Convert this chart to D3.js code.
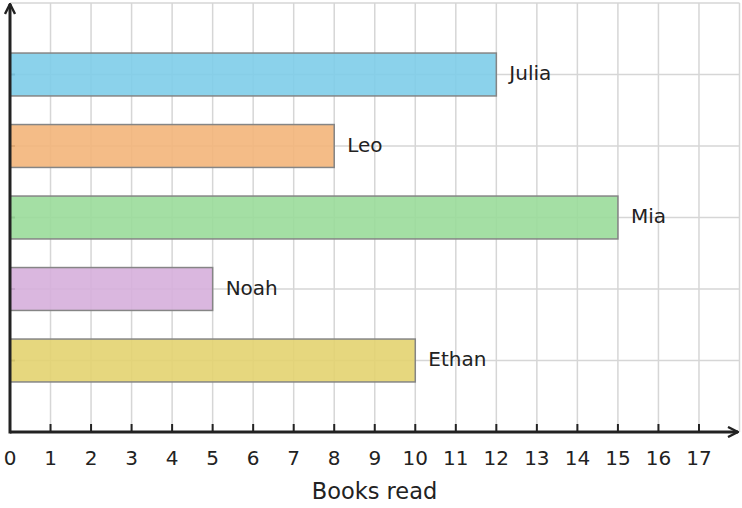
<!DOCTYPE html>
<html>
<head>
<meta charset="utf-8">
<script src="https://cdn.jsdelivr.net/npm/d3@7"></script>
<style>
  body { margin: 0; background: #fff; }
  text { font-family: "DejaVu Sans", sans-serif; fill: #222; }
</style>
</head>
<body>
<div id="chart"></div>
<script>
const names = ["Julia", "Leo", "Mia", "Noah", "Ethan"];
const books = [12, 8, 15, 5, 10];
const colors = ["#7ecde9", "#f3b57a", "#9adb9a", "#d6afdb", "#e3d370"];
const xTicks = d3.range(0, 18);

const width = 742, height = 508;
const svg = d3.select("#chart").append("svg")
    .attr("width", width)
    .attr("height", height);

const x = d3.scaleLinear().domain([0, 18]).range([10, 739.5]);
// rows: Ethan at 1 ... Julia at 5
const y = d3.scaleLinear().domain([0, 6]).range([432, 3]);
const rowOf = i => names.length - i;
const barH = 0.6 * (y(0) - y(1));

// grid
svg.append("g").selectAll("line")
    .data(d3.range(0, 19))
    .enter().append("line")
    .attr("x1", d => x(d)).attr("x2", d => x(d))
    .attr("y1", y(6)).attr("y2", y(0))
    .style("stroke", "#d6d6d6").style("stroke-width", 1.5);
svg.append("g").selectAll("line")
    .data(d3.range(0, 7))
    .enter().append("line")
    .attr("x1", x(0)).attr("x2", x(18))
    .attr("y1", d => y(d)).attr("y2", d => y(d))
    .style("stroke", "#d6d6d6").style("stroke-width", 1.5);

// small ticks on y axis
svg.append("g").selectAll("line")
    .data(names)
    .enter().append("line")
    .attr("x1", x(0)).attr("x2", x(0) + 5)
    .attr("y1", (d, i) => y(rowOf(i))).attr("y2", (d, i) => y(rowOf(i)))
    .style("stroke", "#333").style("stroke-width", 2);

// bars
svg.append("g").selectAll("rect")
    .data(books)
    .enter().append("rect")
    .attr("x", x(0))
    .attr("y", (d, i) => y(rowOf(i)) - barH / 2)
    .attr("width", d => x(d) - x(0))
    .attr("height", barH)
    .style("fill", (d, i) => colors[i])
    .style("fill-opacity", 0.9)
    .style("stroke", "#858585")
    .style("stroke-width", 1.5);

// bar labels
svg.append("g").selectAll("text")
    .data(books)
    .enter().append("text")
    .attr("x", d => x(d) + 13)
    .attr("y", (d, i) => y(rowOf(i)) - 1.5)
    .attr("dy", "0.35em")
    .style("font-size", "20px")
    .text((d, i) => names[i]);

// axes
svg.append("defs").append("marker")
    .attr("id", "arrow")
    .attr("viewBox", "0 0 12 12")
    .attr("refX", 11).attr("refY", 6)
    .attr("markerWidth", 12).attr("markerHeight", 12)
    .attr("markerUnits", "userSpaceOnUse")
    .attr("orient", "auto")
    .append("path")
    .attr("d", "M1,1 L11,6 L1,11")
    .style("fill", "none").style("stroke", "#222").style("stroke-width", 2.4);

svg.append("line")
    .attr("x1", x(0)).attr("x2", 738)
    .attr("y1", y(0)).attr("y2", y(0))
    .style("stroke", "#222").style("stroke-width", 3)
    .attr("marker-end", "url(#arrow)");
svg.append("line")
    .attr("x1", x(0)).attr("x2", x(0))
    .attr("y1", y(0) + 1.5).attr("y2", 4)
    .style("stroke", "#222").style("stroke-width", 3)
    .attr("marker-end", "url(#arrow)");

// x ticks
const tick = svg.append("g").selectAll("g")
    .data(xTicks)
    .enter().append("g")
    .attr("transform", d => `translate(${x(d)},${y(0)})`);
tick.filter(d => d > 0).append("line")
    .attr("y1", 0).attr("y2", -8)
    .style("stroke", "#222").style("stroke-width", 2);
tick.append("text")
    .attr("y", 26)
    .attr("dy", "0.35em")
    .attr("text-anchor", "middle")
    .style("font-size", "20px")
    .text(d => d);

svg.append("text")
    .attr("x", (x(0) + 739) / 2)
    .attr("y", 491)
    .attr("dy", "0.35em")
    .attr("text-anchor", "middle")
    .style("font-size", "22.5px")
    .text("Books read");
</script>
</body>
</html>
